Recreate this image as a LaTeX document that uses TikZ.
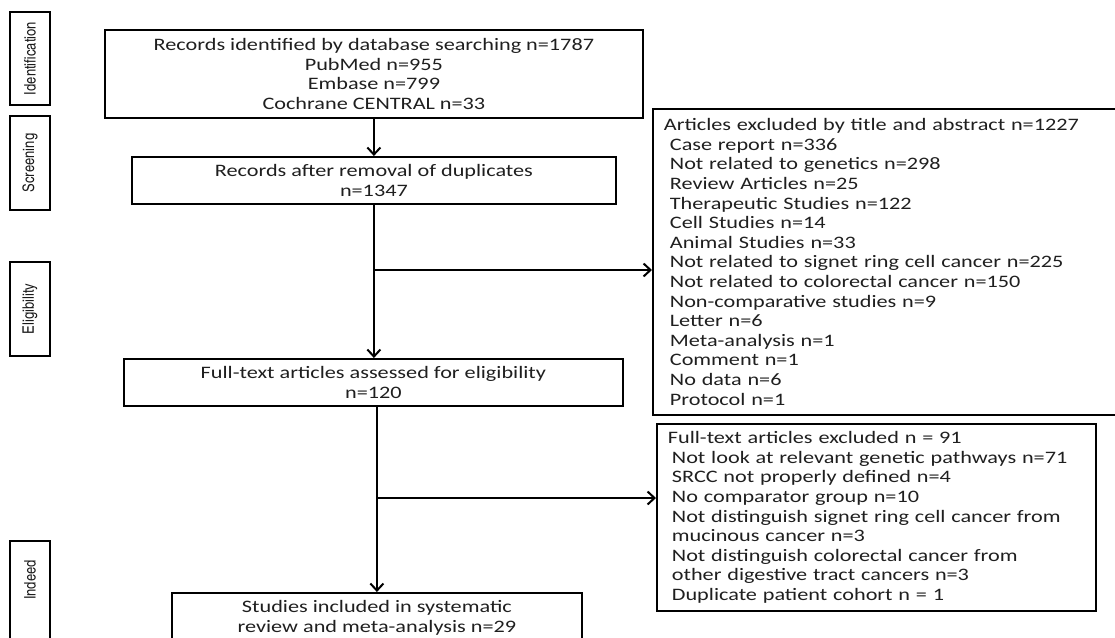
\documentclass[tikz,border=0pt]{standalone}
\usepackage{fontspec}
\usepackage{graphicx}
\setmainfont{Carlito}[FakeStretch=1.27]
\newfontfamily\condfont{texgyreheroscn-regular.otf}
\usetikzlibrary{arrows.meta}
\newcommand{\phasetext}[1]{\rotatebox{90}{\condfont\fontsize{15.9}{18}\selectfont #1}}
\tikzset{
  box/.style={draw=black, line width=1.8pt, inner sep=0pt, text=black!88,
    font=\fontsize{17.5}{19.6}\selectfont},
  cbox/.style={box, anchor=north west, align=center},
  lbox/.style={box, anchor=north west, align=left, inner xsep=11pt},
  phase/.style={draw=black, line width=1.8pt, inner sep=0pt,
    minimum width=40pt, text=black!90},
  conn/.style={draw=black, line width=2pt},
  arr/.style={conn, -{Straight Barb[length=7pt,width=13pt,line width=2pt]}}
}
\begin{document}
\begin{tikzpicture}[x=1pt,y=-1pt]
\useasboundingbox (0,0) rectangle (1115,637);
% phase labels
\node[phase, minimum height=93pt] (pid) at (30,58.5) {\phasetext{Identification}};
\node[phase, minimum height=94pt] (pscr) at (30,163) {\phasetext{Screening}};
\node[phase, minimum height=94pt] (pel) at (30,309) {\phasetext{Eligibility}};
\node[phase, minimum height=104pt] (pin) at (30,593) {\phasetext{\hspace*{26pt}Indeed}};
% main boxes
\node[cbox, minimum width=538pt, minimum height=88pt] (id) at (104,29)
  {Records identified by database searching n=1787\\PubMed n=955\\Embase n=799\\Cochrane CENTRAL n=33};
\node[cbox, minimum width=484pt, minimum height=47pt] (scr) at (131,156)
  {Records after removal of duplicates\\n=1347};
\node[cbox, minimum width=499pt, minimum height=47pt] (elig) at (123,358)
  {Full-text articles assessed for eligibility\\n=120};
\node[cbox, minimum width=410pt, minimum height=50pt] (fin) at (171,592)
  {Studies included in systematic\\review and meta-analysis n=29};
% exclusion boxes
\node[lbox, text width=451pt, minimum height=306pt] (ex1) at (652,108)
  {Articles excluded by title and abstract n=1227\\
   \hspace*{6pt}Case report n=336\\
   \hspace*{6pt}Not related to genetics n=298\\
   \hspace*{6pt}Review Articles n=25\\
   \hspace*{6pt}Therapeutic Studies n=122\\
   \hspace*{6pt}Cell Studies n=14\\
   \hspace*{6pt}Animal Studies n=33\\
   \hspace*{6pt}Not related to signet ring cell cancer n=225\\
   \hspace*{6pt}Not related to colorectal cancer n=150\\
   \hspace*{6pt}Non-comparative studies n=9\\
   \hspace*{6pt}Letter n=6\\
   \hspace*{6pt}Meta-analysis n=1\\
   \hspace*{6pt}Comment n=1\\
   \hspace*{6pt}No data n=6\\
   \hspace*{6pt}Protocol n=1};
\node[lbox, text width=417pt, minimum height=187pt] (ex2) at (656,423)
  {Full-text articles excluded n = 91\\
   \hspace*{4pt}Not look at relevant genetic pathways n=71\\
   \hspace*{4pt}SRCC not properly defined n=4\\
   \hspace*{4pt}No comparator group n=10\\
   \hspace*{4pt}Not distinguish signet ring cell cancer from\\
   \hspace*{4pt}mucinous cancer n=3\\
   \hspace*{4pt}Not distinguish colorectal cancer from\\
   \hspace*{4pt}other digestive tract cancers n=3\\
   \hspace*{4pt}Duplicate patient cohort n = 1};
% connectors
\coordinate (b1) at (373,270);
\coordinate (b2) at (376,498);
\draw[arr] (id.south) -- (scr.north);
\draw[arr] (scr.south) -- (scr.south |- elig.north);
\draw[arr] (b1) -- (b1 -| ex1.west);
\draw[arr] (elig.south -| fin.north) -- (fin.north);
\draw[arr] (b2) -- (b2 -| ex2.west);
\end{tikzpicture}
\end{document}
